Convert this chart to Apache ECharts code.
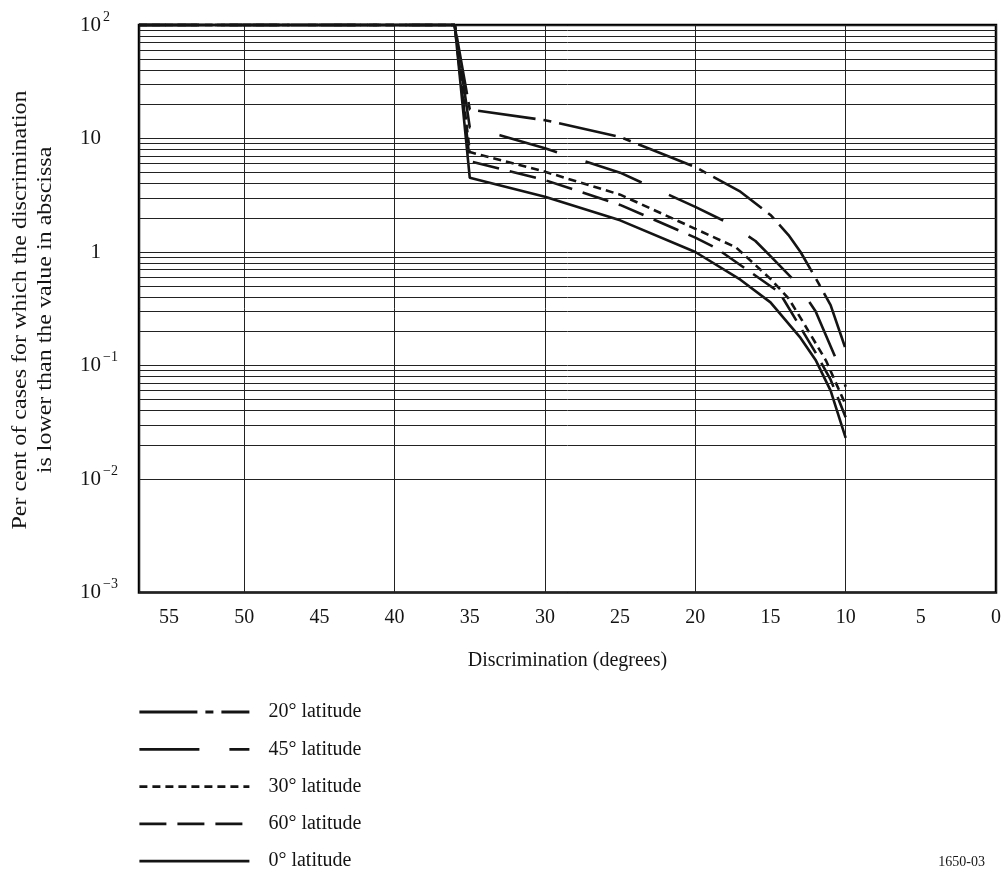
<!DOCTYPE html>
<html>
<head>
<meta charset="utf-8">
<script src="https://cdn.jsdelivr.net/npm/echarts@6/dist/echarts.min.js"></script>
<style>
html,body{margin:0;padding:0;background:#fff;}
#chart{width:1004px;height:871px;}
</style>
</head>
<body>
<div id="chart"></div>
<script>
// ---- data (discrimination in degrees, per cent of cases) ----
const lat20X = [57, 36, 35, 30, 25, 20, 17, 15, 13.8, 13, 11.8, 11, 10];
const lat20Y = [100, 100, 18, 14.5, 10.3, 5.6, 3.4, 2.12, 1.41, 1.0, 0.53, 0.34, 0.14];

const lat45X = [57, 36, 35, 33, 30, 25, 20, 17.8, 16, 15, 13.25, 12, 10.45, 10];
const lat45Y = [100, 100, 12.5, 10.7, 8.2, 5.0, 2.5, 1.8, 1.25, 0.92, 0.53, 0.3, 0.1, 0.065];

const lat30X = [57, 36, 35, 30, 25, 20, 17.3, 15, 13.8, 12.9, 11.3, 10];
const lat30Y = [100, 100, 7.6, 5.1, 3.2, 1.6, 1.1, 0.58, 0.39, 0.25, 0.11, 0.045];

const lat60X = [57, 36, 35, 30, 25, 20, 18.6, 14.4, 12, 11, 10];
const lat60Y = [100, 100, 6.3, 4.3, 2.6, 1.34, 1.08, 0.44, 0.13, 0.075, 0.035];

const lat0X = [57, 36, 35, 30, 25, 20, 17, 15, 13, 12, 11, 10];
const lat0Y = [100, 100, 4.5, 3.07, 1.9, 1.0, 0.57, 0.36, 0.175, 0.112, 0.06, 0.023];

const seriesNames = ['20° latitude', '45° latitude', '30° latitude', '60° latitude', '0° latitude'];

// tick labels
const yTickValues = [100, 10, 1, 0.1, 0.01, 0.001];
const yTickBase = ['10', '10', '1', '10', '10', '10'];
const yTickExp = ['2', '', '', '−1', '−2', '−3'];
const yDecades = [0.001, 0.01, 0.1, 1, 10];
const yMinorSteps = [2, 3, 4, 5, 6, 7, 8, 9];

const FONT = 'Liberation Serif';
const INK = '#141414';

function pairs(xs, ys) { return xs.map((x, i) => [x, ys[i]]); }

const minorLines = [];
yDecades.forEach(d => yMinorSteps.forEach(s => minorLines.push({ yAxis: d * s })));

const dashes = {
  '20° latitude': [58, 8, 8, 8],
  '45° latitude': [60, 30],
  '30° latitude': [8, 5],
  '60° latitude': [27, 11],
  '0° latitude': 'solid'
};
const dataSets = {
  '20° latitude': pairs(lat20X, lat20Y),
  '45° latitude': pairs(lat45X, lat45Y),
  '30° latitude': pairs(lat30X, lat30Y),
  '60° latitude': pairs(lat60X, lat60Y),
  '0° latitude': pairs(lat0X, lat0Y)
};

const series = [{
  name: 'grid',
  type: 'line',
  data: [],
  silent: true,
  z: 1,
  markLine: {
    silent: true,
    symbol: ['none', 'none'],
    label: { show: false },
    lineStyle: { color: '#222', width: 1, type: 'solid' },
    emphasis: { disabled: true },
    data: minorLines
  }
}];
seriesNames.forEach(n => {
  series.push({
    name: n,
    type: 'line',
    data: dataSets[n],
    showSymbol: false,
    symbol: 'none',
    clip: false,
    z: 3,
    lineStyle: { color: INK, width: 2.6, type: dashes[n] },
    itemStyle: { color: INK }
  });
});

const chart = echarts.init(document.getElementById('chart'), null, { renderer: 'canvas' });
chart.setOption({
  animation: false,
  backgroundColor: '#fff',
  grid: { left: 139, right: 7, top: 25, bottom: 278.5, show: true, borderColor: '#000', borderWidth: 2.5, backgroundColor: 'transparent' },
  legend: {
    orient: 'vertical',
    left: 138,
    top: 702,
    height: 200,
    padding: 0,
    itemWidth: 110,
    itemHeight: 14,
    itemGap: 17.3,
    data: seriesNames,
    selectedMode: false,
    itemStyle: { opacity: 0, borderWidth: 0 },
    lineStyle: { width: 2.8, color: INK },
    textStyle: { fontFamily: FONT, fontSize: 20, color: INK, padding: [0, 0, 0, 14] }
  },
  xAxis: [{
    type: 'value', min: 0, max: 57, interval: 10, inverse: true,
    axisLine: { show: false }, axisTick: { show: false }, axisLabel: { show: false },
    splitLine: { show: true, lineStyle: { color: '#222', width: 1 } },
    name: 'Discrimination (degrees)', nameLocation: 'middle', nameGap: 58,
    nameTextStyle: { fontFamily: FONT, fontSize: 20, color: INK }
  }, {
    type: 'value', min: 0, max: 57, interval: 5, inverse: true, position: 'bottom',
    axisLine: { show: false }, axisTick: { show: false },
    splitLine: { show: false },
    axisLabel: {
      margin: 15, fontFamily: FONT, fontSize: 20, color: INK,
      formatter: v => (Math.abs(v % 5) < 1e-9 ? String(v) : '')
    }
  }],
  yAxis: {
    type: 'log', logBase: 10, min: 0.001, max: 100, splitNumber: 5,
    axisLine: { show: false }, axisTick: { show: false },
    splitLine: { show: true, lineStyle: { color: '#222', width: 1 } },
    axisLabel: {
      align: 'left', margin: 59, color: INK,
      formatter: v => {
        const e = Math.round(Math.log10(v));
        const i = yTickValues.findIndex(t => Math.round(Math.log10(t)) === e);
        if (i < 0) return '';
        return yTickExp[i] ? '{b|' + yTickBase[i] + '}{s|' + yTickExp[i] + '}' : '{b|' + yTickBase[i] + '}';
      },
      rich: {
        b: { fontFamily: FONT, fontSize: 21, color: INK, width: 21, align: 'right' },
        s: { fontFamily: FONT, fontSize: 14, color: INK, padding: [0, 0, 16, 2] }
      }
    }
  },
  graphic: [{
    type: 'text', x: 33, y: 310, rotation: Math.PI / 2, scaleX: 1.2,
    style: {
      text: 'Per cent of cases for which the discrimination\nis lower than the value in abscissa',
      font: '20px "Liberation Serif"', fill: INK, align: 'center', verticalAlign: 'middle', lineHeight: 25
    }
  }, {
    type: 'text', x: 985, y: 862,
    style: { text: '1650-03', font: '14px "Liberation Serif"', fill: INK, align: 'right', verticalAlign: 'middle' }
  }],
  series: series
});
</script>
</body>
</html>
